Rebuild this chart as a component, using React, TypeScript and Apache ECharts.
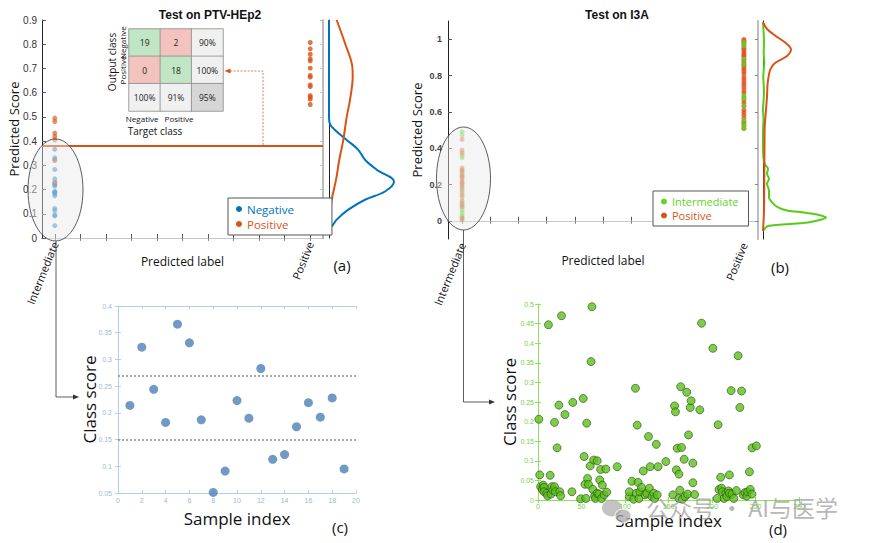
import React, { useEffect, useRef } from "react";
import * as echarts from "echarts";

// ---------- Panel (a): Test on PTV-HEp2 ----------
const catsA = ["Intermediate", "", "", "", "", "", "", "", "", "", "Positive"];
const negInterA = [0.214, 0.323, 0.244, 0.182, 0.366, 0.331, 0.187, 0.051, 0.091, 0.223, 0.19, 0.283, 0.113, 0.122, 0.174, 0.219, 0.192, 0.228, 0.095];
const posInterA = [0.495, 0.481, 0.433, 0.419, 0.405, 0.32, 0.23];
const posPosA = [0.807, 0.781, 0.759, 0.74, 0.731, 0.701, 0.671, 0.664, 0.632, 0.625, 0.588, 0.581, 0.573, 0.551];
const thresholdA = 0.383;
// density curves: [density, score]
const densNegA = [[0, 0.9], [0, 0.5], [1, 0.47], [6, 0.446], [17.7, 0.405], [29.3, 0.364], [36, 0.323], [47.7, 0.282], [65, 0.233], [56, 0.192], [36, 0.158], [19.3, 0.117], [7.7, 0.076], [2.7, 0.048], [0, 0.045]];
const densPosA = [[7.7, 0.9], [16, 0.804], [23.3, 0.708], [23.7, 0.666], [21, 0.57], [17.7, 0.5], [14.3, 0.405], [10.3, 0.323], [7, 0.24], [2.7, 0.158], [0.7, 0.09], [0, 0.048]];

// confusion matrix
const cmCols = ["Negative", "Positive", ""];
const cmRows = ["Negative", "Positive", ""];
const cmText = [["19", "2", "90%"], ["0", "18", "100%"], ["100%", "91%", "95%"]];
// cell class: 0 correct, 1 wrong, 2 summary, 3 overall
const cmClass = [[0, 1, 2], [1, 0, 2], [2, 2, 3]];
const cmClassColors = ["#c0e6c5", "#f3c3bf", "#f0f0f0", "#d6d6d6"];

// ---------- Panel (b): Test on I3A ----------
const catsB = ["Intermediate", "", "", "", "", "", "", "", "", "", "Positive"];
const intInterB = [0.49, 0.472, 0.361, 0.348, 0.28, 0.243, 0.19, 0.167, 0.13, 0.1, 0.075, 0.06, 0.045, 0.03, 0.02];
const posInterB = [0.448, 0.389, 0.374, 0.29, 0.275, 0.262, 0.25, 0.236, 0.22, 0.21, 0.2, 0.18, 0.155, 0.14, 0.111, 0.09, 0.08, 0.015, 0.005];
const posPosB = [0.998, 0.99, 0.982, 0.973, 0.962, 0.951, 0.944, 0.933, 0.921, 0.912, 0.903, 0.89, 0.878, 0.866, 0.857, 0.846, 0.834, 0.822, 0.808, 0.79, 0.776, 0.761, 0.748, 0.733, 0.716, 0.702, 0.681, 0.664, 0.648, 0.632, 0.611, 0.598, 0.583, 0.566, 0.548, 0.536, 0.521, 0.508];
const intPosB = [0.981, 0.962, 0.889, 0.861, 0.688, 0.673, 0.631, 0.556, 0.528, 0.51];
const yTicksB = [0, 0.2, 0.4, 0.6, 0.8, 1];
const densIntB = [[0, 1.093], [1, 0.981], [0.7, 0.926], [1.3, 0.87], [0.3, 0.796], [1, 0.704], [0, 0.611], [0.5, 0.556], [0, 0.5], [0, 0.389], [1.5, 0.315], [5, 0.287], [4, 0.259], [6, 0.231], [4, 0.204], [6, 0.167], [6, 0.13], [9, 0.102], [15, 0.074], [25, 0.056], [40, 0.046], [55, 0.033], [63, 0.018], [45, -0.009], [5, -0.028], [0, -0.056]];
const densPosB = [[0, 1.093], [4, 1.056], [12.3, 1.019], [22.3, 0.981], [28, 0.944], [24, 0.907], [12.3, 0.87], [7.3, 0.833], [4.7, 0.759], [4, 0.685], [3, 0.611], [1.7, 0.519], [1.5, 0.426], [1.3, 0.241], [1, 0.056], [0, -0.056]];

// ---------- Panel (c) ----------
const sampleIdxC = [1, 2, 3, 4, 5, 6, 7, 8, 9, 10, 11, 12, 13, 14, 15, 16, 17, 18, 19];
const classScoreC = [0.214, 0.323, 0.244, 0.182, 0.366, 0.331, 0.187, 0.051, 0.091, 0.223, 0.19, 0.283, 0.113, 0.122, 0.174, 0.219, 0.192, 0.228, 0.095];
const dottedC = [0.265, 0.1475];

// ---------- Panel (d) ----------
const sampleIdxD = [1, 2, 3, 5, 6, 7, 7, 10, 12, 11, 14, 15, 16, 17, 19, 19, 20, 22, 24, 25, 26, 27, 31, 39, 40, 49, 52, 53, 54, 55, 56, 57, 58, 60, 61, 62, 63, 64, 65, 66, 68, 68, 70, 71, 72, 73, 74, 76, 78, 79, 91, 105, 105, 108, 110, 112, 113, 114, 115, 116, 117, 119, 121, 123, 125, 127, 128, 129, 131, 133, 134, 136, 137, 138, 147, 155, 157, 158, 159, 160, 162, 162, 163, 164, 165, 166, 168, 169, 171, 172, 173, 175, 176, 178, 178, 180, 186, 188, 201, 206, 207, 208, 210, 211, 212, 214, 216, 217, 219, 220, 220, 222, 223, 225, 228, 230, 232, 234, 236, 238, 240, 241, 243, 244, 246, 246, 251];
const classScoreD = [0.206, 0.064, 0.034, 0.027, 0.038, 0.032, 0.021, 0.017, 0.447, 0.011, 0.063, 0.015, 0.034, 0.025, 0.198, 0.034, 0.021, 0.133, 0.242, 0.021, 0.011, 0.47, 0.218, 0.021, 0.249, 0.003, 0.259, 0.111, 0.04, 0.004, 0.196, 0.055, 0.04, 0.087, 0.353, 0.493, 0.027, 0.102, 0.01, 0.004, 0.1, 0.017, 0.015, 0.051, 0.078, 0.004, 0.038, 0.013, 0.079, 0.02, 0.085, 0.009, 0.021, 0.048, 0.002, 0.285, 0.017, 0.191, 0.045, 0.004, 0.021, 0.032, 0.074, 0.013, 0.017, 0.162, 0.03, 0.085, 0.009, 0.017, 0.004, 0.142, 0.013, 0.085, 0.098, 0.013, 0.24, 0.225, 0.077, 0.132, 0.066, 0.004, 0.025, 0.289, 0.134, 0.002, 0.104, 0.009, 0.275, 0.015, 0.166, 0.236, 0.253, 0.044, 0.094, 0.014, 0.23, 0.451, 0.387, 0.004, 0.192, 0.027, 0.058, 0.03, 0.021, 0.004, 0.017, 0.009, 0.023, 0.064, 0.017, 0.279, 0.015, 0.004, 0.024, 0.368, 0.236, 0.278, 0.013, 0.019, 0.01, 0.021, 0.072, 0.027, 0.015, 0.133, 0.138];

const BLUE = "#0072bd";
const ORANGE = "#d95319";
const GREEN = "#62d426";
const SANS = "Liberation Sans, Arial, sans-serif";
const CAL = "Open Sans, Lato, sans-serif";

const fmt = (v: number) => String(+Number(v).toFixed(2));

function mirrorX(gridIndex: number, color: string, extra: any = {}) {
  return {
    gridIndex, position: "top",
    axisLine: { show: true, lineStyle: { color, width: 1 } },
    axisTick: { show: true, inside: true, length: 3, lineStyle: { color } },
    axisLabel: { show: false }, splitLine: { show: false }, ...extra,
  };
}
function mirrorY(gridIndex: number, color: string, extra: any = {}) {
  return {
    gridIndex, position: "right",
    axisLine: { show: true, lineStyle: { color, width: 1 } },
    axisTick: { show: true, inside: true, length: 3, lineStyle: { color } },
    axisLabel: { show: false }, splitLine: { show: false }, ...extra,
  };
}

export default function App() {
  const ref = useRef<HTMLDivElement>(null);
  useEffect(() => {
    if (!ref.current) return;
    const chart = echarts.init(ref.current, undefined, { renderer: "svg" });

    const cmData: any[] = [];
    for (let r = 0; r < 3; r++)
      for (let c = 0; c < 3; c++)
        cmData.push({ value: [c, r, cmClass[r][c]], label: { formatter: cmText[r][c] } });

    const catAxis = (gridIndex: number, data: string[]) => ({
      type: "category", gridIndex, data, boundaryGap: true, position: "bottom",
      axisLine: { show: true, lineStyle: { color: "#222", width: 1 } },
      axisTick: { show: true, inside: true, length: 4, alignWithLabel: true, interval: 0, lineStyle: { color: "#555" } },
      axisLabel: { interval: 0, rotate: 68, fontSize: 11, color: "#111", fontFamily: CAL, margin: 4 },
      name: "Predicted label", nameLocation: "middle", nameGap: gridIndex === 0 ? 17 : 15, nameMoveOverlap: false,
      nameTextStyle: { fontSize: 12, color: "#111", fontFamily: CAL },
    });

    const option: any = {
      animation: false,
      backgroundColor: "#fff",
      title: [
        { text: "Test on PTV-HEp2", left: 205, top: 4, textAlign: "center", textStyle: { fontSize: 12, fontWeight: "bold", color: "#111", fontFamily: SANS } },
        { text: "Test on I3A", left: 612, top: 4, textAlign: "center", textStyle: { fontSize: 12, fontWeight: "bold", color: "#111", fontFamily: SANS } },
      ],
      visualMap: {
        type: "piecewise", show: false, seriesIndex: 5, dimension: 2,
        pieces: cmClassColors.map((color, i) => ({ value: i, color })),
      },
      legend: [
        {
          orient: "vertical", left: 228, top: 198, itemWidth: 6, itemHeight: 6, itemGap: 3, icon: "circle",
          padding: [5, 38, 5, 8], borderColor: "#555", borderWidth: 1, backgroundColor: "#fff",
          textStyle: { fontSize: 11.5, fontFamily: CAL },
          data: [
            { name: "Negative", itemStyle: { color: BLUE, opacity: 1 }, textStyle: { color: BLUE } },
            { name: "Positive", itemStyle: { color: ORANGE, opacity: 1 }, textStyle: { color: ORANGE } },
          ],
        },
        {
          orient: "vertical", left: 653, top: 191, itemWidth: 6, itemHeight: 6, itemGap: 3, icon: "circle",
          padding: [5, 10, 5, 8], borderColor: "#555", borderWidth: 1, backgroundColor: "#fff",
          textStyle: { fontSize: 11, fontFamily: CAL },
          data: [
            { name: "Intermediate", itemStyle: { color: GREEN, opacity: 1 }, textStyle: { color: GREEN } },
            { name: "Positive", itemStyle: { color: ORANGE, opacity: 1 }, textStyle: { color: ORANGE } },
          ],
        },
      ],
      grid: [
        { left: 42, top: 20, width: 281, height: 218 },
        { left: 329, top: 20, width: 70, height: 218 },
        { left: 129, top: 29, width: 94, height: 82 },
        { left: 448, top: 21, width: 310, height: 218 },
        { left: 763, top: 21, width: 65, height: 218 },
        { left: 118, top: 306, width: 238, height: 187 },
        { left: 538, top: 304, width: 261, height: 196 },
      ],
      xAxis: [
        catAxis(0, catsA),
        { type: "category", data: catsA, boundaryGap: true, ...mirrorX(0, "#c8c8c8"), axisTick: { show: true, inside: true, length: 3, alignWithLabel: true, interval: 0, lineStyle: { color: "#888" } } },
        { type: "value", gridIndex: 1, min: 0, max: 70, show: false },
        {
          type: "category", gridIndex: 2, data: cmCols, axisLine: { show: false }, axisTick: { show: false },
          axisLabel: {
            color: "#111", margin: 3, fontFamily: CAL, interval: 0,
            formatter: (v: string, i: number) => (v ? (i === 0 ? `{l|${v}}` : `{r|${v}}`) : ""),
            rich: {
              l: { fontSize: 8, fontFamily: CAL, color: "#111", padding: [0, 5, 0, 0] },
              r: { fontSize: 8, fontFamily: CAL, color: "#111", padding: [0, 0, 0, 6] },
            },
          },
        },
        catAxis(3, catsB),
        { type: "category", data: catsB, boundaryGap: true, ...mirrorX(3, "#c8c8c8"), axisTick: { show: true, inside: true, length: 3, alignWithLabel: true, interval: 0, lineStyle: { color: "#888" } } },
        { type: "value", gridIndex: 4, min: 0, max: 65, show: false },
        {
          type: "value", gridIndex: 5, min: 0, max: 20, interval: 2,
          axisLine: { show: true, lineStyle: { color: "#b7cce6" } },
          axisTick: { show: true, inside: true, length: 3, lineStyle: { color: "#b7cce6" } },
          axisLabel: { fontSize: 7, color: "#9db8da", margin: 4, fontFamily: SANS }, splitLine: { show: false },
          name: "Sample index", nameLocation: "middle", nameGap: 17, nameMoveOverlap: false, nameTextStyle: { fontSize: 17, color: "#111", fontFamily: CAL },
        },
        { type: "value", min: 0, max: 20, interval: 2, ...mirrorX(5, "#b7cce6") },
        {
          type: "value", gridIndex: 6, min: 0, max: 300, interval: 50,
          axisLine: { show: true, lineStyle: { color: "#8ee05a" } },
          axisTick: { show: true, inside: true, length: 3, lineStyle: { color: "#8ee05a" } },
          axisLabel: { fontSize: 7, color: "#74d23f", margin: 3, fontFamily: SANS }, splitLine: { show: false },
          name: "Sample index", nameLocation: "middle", nameGap: 12, nameMoveOverlap: false, nameTextStyle: { fontSize: 17, color: "#111", fontFamily: CAL },
        },
        { type: "value", min: 0, max: 300, interval: 50, ...mirrorX(6, "#8ee05a") },
      ],
      yAxis: [
        {
          type: "value", gridIndex: 0, min: 0, max: 0.9, interval: 0.1,
          axisLine: { show: true, lineStyle: { color: "#222" } },
          axisTick: { show: true, inside: true, length: 4, lineStyle: { color: "#555" } },
          axisLabel: { fontSize: 10, color: "#333", margin: 5, fontFamily: SANS, formatter: fmt }, splitLine: { show: false },
          name: "Predicted Score", nameLocation: "middle", nameGap: 22, nameMoveOverlap: false, nameTextStyle: { fontSize: 13, color: "#111", fontFamily: CAL },
        },
        { type: "value", min: 0, max: 0.9, interval: 0.1, ...mirrorY(0, "#c0c0c0", { axisLine: { show: true, lineStyle: { color: "#bdbdbd", width: 2 } } }) },
        {
          type: "value", gridIndex: 1, min: 0, max: 0.9,
          axisLine: { show: true, lineStyle: { color: "#222", width: 1 } }, axisTick: { show: false }, axisLabel: { show: false }, splitLine: { show: false },
        },
        {
          type: "category", gridIndex: 2, data: cmRows, inverse: true, axisLine: { show: false }, axisTick: { show: false },
          axisLabel: { fontSize: 8, color: "#111", margin: 3, rotate: 90, fontFamily: CAL, interval: 0 },
        },
        {
          type: "value", gridIndex: 3, min: -0.1, max: 1.1,
          axisLine: { show: true, lineStyle: { color: "#222" } },
          axisTick: { show: true, inside: true, length: 4, customValues: yTicksB, lineStyle: { color: "#555" } },
          axisLabel: { fontSize: 9, color: "#444", fontWeight: "bold", margin: 6, fontFamily: SANS, customValues: yTicksB, formatter: fmt },
          splitLine: { show: false },
          name: "Predicted Score", nameLocation: "middle", nameGap: 25, nameMoveOverlap: false, nameTextStyle: { fontSize: 13, color: "#111", fontFamily: CAL },
        },
        { type: "value", min: -0.1, max: 1.1, ...mirrorY(3, "#c0c0c0", { axisTick: { show: true, inside: true, length: 3, customValues: yTicksB, lineStyle: { color: "#888" } }, axisLine: { show: true, lineStyle: { color: "#bdbdbd", width: 2 } } }) },
        {
          type: "value", gridIndex: 4, min: -0.1, max: 1.1,
          axisLine: { show: true, lineStyle: { color: "#222", width: 1 } }, axisTick: { show: false }, axisLabel: { show: false }, splitLine: { show: false },
        },
        {
          type: "value", gridIndex: 5, min: 0.05, max: 0.4, interval: 0.05,
          axisLine: { show: true, lineStyle: { color: "#b7cce6" } },
          axisTick: { show: true, inside: true, length: 3, lineStyle: { color: "#b7cce6" } },
          axisLabel: { fontSize: 7, color: "#9db8da", margin: 6, fontFamily: SANS, formatter: fmt }, splitLine: { show: false },
          name: "Class score", nameLocation: "middle", nameGap: 20, nameMoveOverlap: false, nameTextStyle: { fontSize: 17, color: "#111", fontFamily: CAL },
        },
        { type: "value", min: 0.05, max: 0.4, interval: 0.05, ...mirrorY(5, "#b7cce6") },
        {
          type: "value", gridIndex: 6, min: 0, max: 0.5, interval: 0.05,
          axisLine: { show: true, lineStyle: { color: "#8ee05a" } },
          axisTick: { show: true, inside: true, length: 3, lineStyle: { color: "#8ee05a" } },
          axisLabel: { fontSize: 7, color: "#74d23f", margin: 4, fontFamily: SANS, formatter: fmt }, splitLine: { show: false },
          name: "Class score", nameLocation: "middle", nameGap: 20, nameMoveOverlap: false, nameTextStyle: { fontSize: 17, color: "#111", fontFamily: CAL },
        },
        { type: "value", min: 0, max: 0.5, interval: 0.05, ...mirrorY(6, "#8ee05a") },
      ],
      series: [
        // (a)
        {
          type: "scatter", name: "Positive", xAxisIndex: 0, yAxisIndex: 0, symbolSize: 5,
          itemStyle: { color: ORANGE }, data: posPosA.map((v) => [10, v]),
          markLine: { silent: true, symbol: "none", label: { show: false }, lineStyle: { color: ORANGE, width: 2, type: "solid" }, data: [{ yAxis: thresholdA }] },
        },
        { type: "scatter", name: "Negative", xAxisIndex: 0, yAxisIndex: 0, symbolSize: 5, itemStyle: { color: BLUE, opacity: 0.6 }, data: negInterA.map((v) => [0, v]) },
        { type: "scatter", name: "Positive", xAxisIndex: 0, yAxisIndex: 0, symbolSize: 5, itemStyle: { color: ORANGE, opacity: 0.65 }, data: posInterA.map((v) => [0, v]) },
        { type: "line", name: "densNegA", xAxisIndex: 2, yAxisIndex: 2, data: densNegA, smooth: 0.35, showSymbol: false, lineStyle: { color: BLUE, width: 2 }, itemStyle: { color: BLUE }, z: 3 },
        { type: "line", name: "densPosA", xAxisIndex: 2, yAxisIndex: 2, data: densPosA, smooth: 0.35, showSymbol: false, lineStyle: { color: ORANGE, width: 2 }, itemStyle: { color: ORANGE } },
        {
          type: "heatmap", name: "cm", xAxisIndex: 3, yAxisIndex: 3, data: cmData,
          itemStyle: { borderColor: "#8a8a8a", borderWidth: 0.8 },
          label: { show: true, fontSize: 8.5, color: "#222", fontFamily: CAL },
          emphasis: { disabled: true },
        },
        // (b)
        { type: "scatter", name: "Positive", xAxisIndex: 4, yAxisIndex: 4, symbolSize: 5, itemStyle: { color: "#e0531e" }, data: posPosB.map((v) => [10, v]) },
        { type: "scatter", name: "Intermediate", xAxisIndex: 4, yAxisIndex: 4, symbolSize: 5, itemStyle: { color: GREEN }, data: intPosB.map((v) => [10, v]) },
        { type: "scatter", name: "Intermediate", xAxisIndex: 4, yAxisIndex: 4, symbolSize: 5, itemStyle: { color: GREEN, opacity: 0.6 }, data: intInterB.map((v) => [0, v]) },
        { type: "scatter", name: "Positive", xAxisIndex: 4, yAxisIndex: 4, symbolSize: 5, itemStyle: { color: "#e0531e", opacity: 0.55 }, data: posInterB.map((v) => [0, v]) },
        { type: "line", name: "densIntB", xAxisIndex: 6, yAxisIndex: 6, data: densIntB, smooth: 0.25, showSymbol: false, lineStyle: { color: "#55cc1c", width: 2 }, itemStyle: { color: GREEN } },
        { type: "line", name: "densPosB", xAxisIndex: 6, yAxisIndex: 6, data: densPosB, smooth: 0.3, showSymbol: false, lineStyle: { color: ORANGE, width: 2 }, itemStyle: { color: ORANGE } },
        // (c)
        {
          type: "scatter", name: "c", xAxisIndex: 7, yAxisIndex: 7, symbolSize: 9,
          itemStyle: { color: "#4e80b6" }, data: sampleIdxC.map((x, i) => [x, classScoreC[i]]),
          markLine: { silent: true, symbol: "none", label: { show: false }, lineStyle: { color: "#8a8a8a", width: 1.5, type: [2, 2] }, data: dottedC.map((v) => ({ yAxis: v })) },
        },
        // (d)
        {
          type: "scatter", name: "d", xAxisIndex: 9, yAxisIndex: 9, symbolSize: 8,
          itemStyle: { color: "#5cc01c", borderColor: "#2b4d14", borderWidth: 0.8 },
          data: sampleIdxD.map((x, i) => [x, classScoreD[i]]),
        },
      ],
      graphic: {
        elements: [
          { type: "ellipse", z: 100, shape: { cx: 55.5, cy: 190, rx: 27.5, ry: 51 }, style: { fill: "rgba(232,232,232,0.45)", stroke: "#333", lineWidth: 0.8 } },
          { type: "polyline", z: 100, shape: { points: [[56, 241], [56, 397], [74, 397]] }, style: { stroke: "#333", lineWidth: 0.8, fill: null } },
          { type: "polygon", z: 100, shape: { points: [[79, 397], [73, 394.5], [73, 399.5]] }, style: { fill: "#333" } },
          { type: "ellipse", z: 100, shape: { cx: 463.5, cy: 178.5, rx: 27, ry: 51.5 }, style: { fill: "rgba(232,232,232,0.45)", stroke: "#333", lineWidth: 0.8 } },
          { type: "polyline", z: 100, shape: { points: [[463.5, 230], [463.5, 402], [489, 402]] }, style: { stroke: "#333", lineWidth: 0.8, fill: null } },
          { type: "polygon", z: 100, shape: { points: [[495, 402], [489, 399.5], [489, 404.5]] }, style: { fill: "#333" } },
          { type: "polyline", z: 100, shape: { points: [[263, 145], [263, 71], [230, 71]] }, style: { stroke: "#e07a55", lineWidth: 1, lineDash: [2, 1.5], fill: null } },
          { type: "polygon", z: 100, shape: { points: [[224.5, 71], [230.5, 68.5], [230.5, 73.5]] }, style: { fill: ORANGE } },
          { type: "text", z: 100, x: 112, y: 62, rotation: Math.PI / 2, style: { text: "Output class", fontSize: 10, fill: "#111", align: "center", verticalAlign: "middle", fontFamily: CAL } },
          { type: "text", z: 100, x: 155, y: 131, style: { text: "Target class", fontSize: 10, fill: "#111", align: "center", verticalAlign: "middle", fontFamily: CAL } },
          { type: "text", z: 100, x: 342, y: 265, style: { text: "(a)", fontSize: 15, fill: "#111", align: "center", verticalAlign: "middle", fontFamily: CAL } },
          { type: "text", z: 100, x: 780, y: 267, style: { text: "(b)", fontSize: 15, fill: "#111", align: "center", verticalAlign: "middle", fontFamily: CAL } },
          { type: "text", z: 100, x: 340, y: 527, style: { text: "(c)", fontSize: 15, fill: "#111", align: "center", verticalAlign: "middle", fontFamily: CAL } },
          { type: "text", z: 100, x: 778, y: 529, style: { text: "(d)", fontSize: 15, fill: "#111", align: "center", verticalAlign: "middle", fontFamily: CAL } },
          // watermark
          { type: "ellipse", z: 101, shape: { cx: 612, cy: 508, rx: 10, ry: 8.5 }, style: { fill: "rgba(170,170,170,0.7)" } },
          { type: "ellipse", z: 101, shape: { cx: 623, cy: 516, rx: 8, ry: 7 }, style: { fill: "rgba(170,170,170,0.75)", stroke: "#fff", lineWidth: 1 } },
          { type: "text", z: 101, x: 646, y: 507, style: { text: "公众号 · AI与医学", fontSize: 23, fill: "rgba(160,160,160,0.75)", align: "left", verticalAlign: "middle", fontFamily: "Noto Sans CJK SC, sans-serif" } },
        ],
      },
    };
    chart.setOption(option);
    return () => chart.dispose();
  }, []);
  return <div ref={ref} style={{ position: "absolute", left: 0, top: 0, width: 870, height: 543, background: "#fff" }} />;
}
